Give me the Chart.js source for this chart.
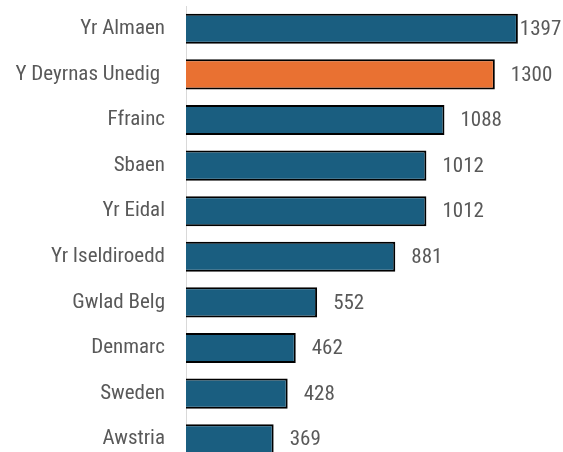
<!DOCTYPE html>
<html>
<head>
<meta charset="utf-8">
<script src="https://cdn.jsdelivr.net/npm/chart.js@4/dist/chart.umd.min.js"></script>
<style>
html,body{margin:0;padding:0;overflow:hidden;background:#fff;}
canvas{display:block;}
</style>
</head>
<body>
<canvas id="c" width="563" height="462"></canvas>
<script>
const categories = ["Yr Almaen", "Y Deyrnas Unedig ", "Ffrainc", "Sbaen", "Yr Eidal", "Yr Iseldiroedd", "Gwlad Belg", "Denmarc", "Sweden", "Awstria"];
const values = [1397, 1300, 1088, 1012, 1012, 881, 552, 462, 428, 369];
const highlight = "Y Deyrnas Unedig ";

const BLUE = '#1a5e80';
const ORANGE = '#e97132';
const FONT = '"Roboto Condensed", "Liberation Sans", sans-serif';

const valueLabels = {
  id: 'valueLabels',
  afterDatasetsDraw(chart) {
    const ctx = chart.ctx;
    const meta = chart.getDatasetMeta(0);
    ctx.save();
    ctx.font = '21px ' + FONT;
    ctx.fillStyle = '#595959';
    ctx.textBaseline = 'middle';
    ctx.textAlign = 'left';
    meta.data.forEach((bar, i) => {
      const txt = String(values[i]);
      const w = ctx.measureText(txt).width;
      let x = bar.x + 16;
      if (x + w > chart.width - 3) x = Math.max(bar.x + 2, chart.width - 3 - w);
      ctx.fillText(txt, x, bar.y + 1);
    });
    ctx.restore();
  }
};

new Chart(document.getElementById('c'), {
  type: 'bar',
  data: {
    labels: categories,
    datasets: [{
      data: values,
      backgroundColor: categories.map(c => c === highlight ? ORANGE : BLUE),
      borderColor: '#000',
      borderWidth: 2,
      categoryPercentage: 1,
      barPercentage: 0.66
    }]
  },
  options: {
    indexAxis: 'y',
    responsive: false,
    animation: false,
    layout: { padding: { top: 6, right: 0, bottom: 0, left: 0 } },
    plugins: { legend: { display: false }, tooltip: { enabled: false } },
    scales: {
      x: { display: false, min: 0, max: 1587 },
      y: {
        afterFit(scale) { scale.width = 186; scale.paddingTop = 0; scale.paddingBottom = 0; },
        grid: { display: true, drawOnChartArea: false, drawTicks: false },
        border: { display: true, color: '#d9d9d9', width: 1 },
        ticks: { color: '#595959', padding: 21, font: { family: FONT, size: 21 } }
      }
    }
  },
  plugins: [valueLabels]
});
</script>
</body>
</html>
